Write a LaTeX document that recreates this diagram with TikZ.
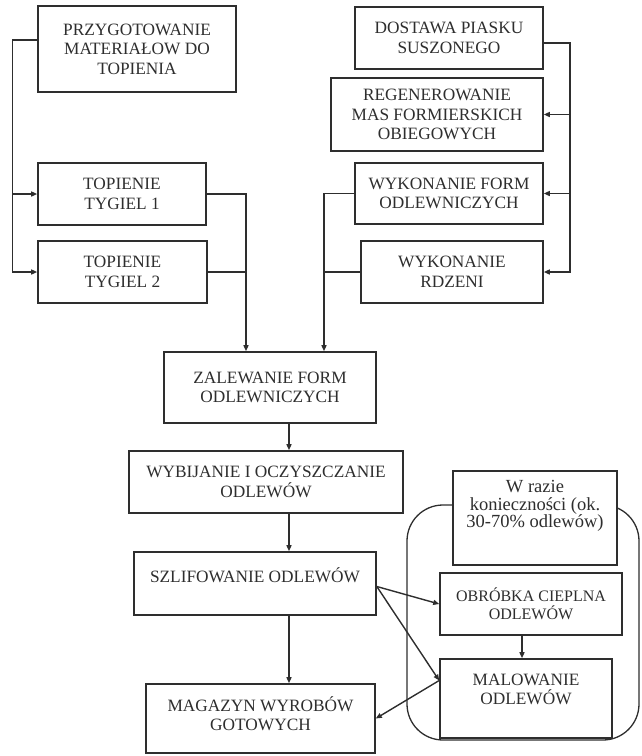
\documentclass[tikz,border=0pt]{standalone}
\usepackage{fontspec}
\setmainfont{Liberation Serif}
\usetikzlibrary{arrows.meta}
\definecolor{ink}{HTML}{2E2E2E}
\tikzset{
  box/.style={draw=ink, line width=1.6pt, fill=white, align=center, inner sep=0pt,
    font=\fontsize{17.3}{19.5}\selectfont, text=ink},
  smallbox/.style={box, font=\fontsize{16}{18}\selectfont},
  conn/.style={draw=ink, line width=1.4pt},
  arr/.style={conn, -{Triangle[length=6pt,width=5pt]}},
}
\begin{document}
\begin{tikzpicture}[x=1pt,y=-1pt]
\useasboundingbox (0,0) rectangle (641,756);
% grouping frame
\draw[draw=ink, line width=1.3pt, rounded corners=36pt] (407,505) rectangle (639,740);
% boxes
\node[box, minimum width=198, minimum height=86] (przyg) at (137,49) {PRZYGOTOWANIE\\MATERIAŁOW DO\\TOPIENIA};
\node[box, minimum width=168, minimum height=62] (tyg1) at (122,194) {TOPIENIE\\TYGIEL 1};
\node[box, minimum width=169, minimum height=62] (tyg2) at (122.5,272) {TOPIENIE\\TYGIEL 2};
\node[box, minimum width=188, minimum height=62] (dost) at (449,38) {DOSTAWA PIASKU\\SUSZONEGO};
\node[box, minimum width=212, minimum height=73] (reg) at (437,114.5) {REGENEROWANIE\\MAS FORMIERSKICH\\OBIEGOWYCH};
\node[box, minimum width=188, minimum height=61] (form) at (449,193.5) {WYKONANIE FORM\\ODLEWNICZYCH};
\node[box, minimum width=182, minimum height=62] (rdz) at (452,272) {WYKONANIE\\RDZENI};
\node[box, minimum width=212, minimum height=71] (zal) at (270,387.5) {ZALEWANIE FORM\\ODLEWNICZYCH};
\node[box, minimum width=274, minimum height=62] (wyb) at (266,482) {WYBIJANIE I OCZYSZCZANIE\\ODLEWÓW};
\node[box, minimum width=242, minimum height=63, text depth=16pt] (szl) at (255,583.5) {SZLIFOWANIE ODLEWÓW};
\node[box, minimum width=229, minimum height=69, text depth=10pt] (mag) at (260.5,718.5) {MAGAZYN WYROBÓW\\GOTOWYCH};
\node[box, minimum width=164, minimum height=94, text depth=28pt, font=\fontsize{18.5}{17.5}\selectfont] (wr) at (535,518) {W razie\\konieczności (ok.\\30-70\% odlewów)};
\node[smallbox, minimum width=182, minimum height=62] (obr) at (531,604) {OBRÓBKA CIEPLNA\\ODLEWÓW};
\node[box, minimum width=172, minimum height=79, text depth=18pt] (mal) at (526,698.5) {MALOWANIE\\ODLEWÓW};
% helper coordinates
\coordinate (colx) at (289,0);
\coordinate (colo) at (522,0);
\coordinate (zl) at ([xshift=-24pt]zal.north);
\coordinate (zr) at ([xshift=54pt]zal.north);
\coordinate (szlout) at ([yshift=-3pt]szl.east);
\coordinate (malin) at ([yshift=18pt]mal.west);
% left group
\draw[arr] ([yshift=9pt]przyg.west) -| ([xshift=-25pt]tyg2.west) -- (tyg2.west);
\draw[arr] ([xshift=-25pt]tyg1.west) -- (tyg1.west);
\draw[arr] (tyg1.east) -| (zl);
\draw[conn] (tyg2.east) -- (tyg2.east -| zl);
% right group
\draw[arr] ([yshift=-5pt]dost.east) -| ([xshift=26pt]rdz.east) -- (rdz.east);
\draw[arr] ([xshift=26pt]reg.east) -- (reg.east);
\draw[arr] ([xshift=26pt]form.east) -- (form.east);
\draw[arr] (form.west) -| (zr);
\draw[conn] (rdz.west) -- (rdz.west -| zr);
% main line
\draw[arr] (zal.south -| colx) -- (wyb.north -| colx);
\draw[arr] (wyb.south -| colx) -- (szl.north -| colx);
\draw[arr] (szl.south -| colx) -- (mag.north -| colx);
% optional branch
\draw[arr] (szlout) -- (obr.west);
\draw[arr] (szlout) -- (malin);
\draw[arr] (obr.south -| colo) -- (mal.north -| colo);
\draw[arr] (malin) -- (mag.east);
\end{tikzpicture}
\end{document}
